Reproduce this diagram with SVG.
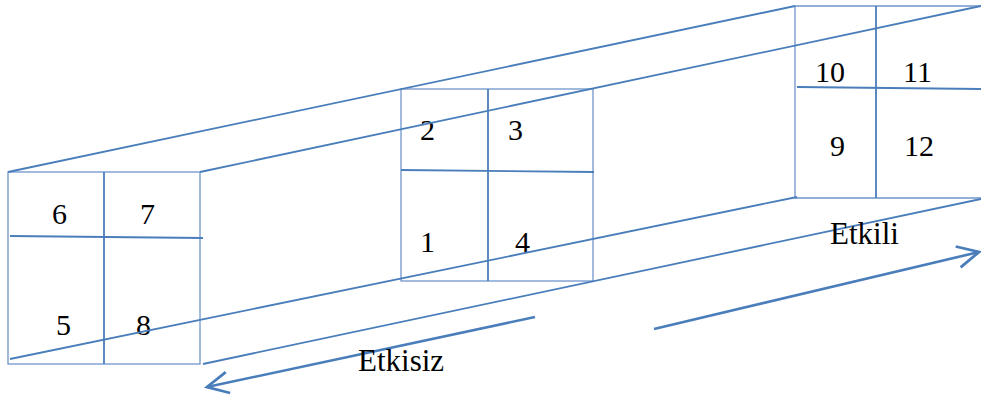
<svg xmlns="http://www.w3.org/2000/svg" width="981" height="396" viewBox="0 0 981 396">
<style>
.frame{fill:none;stroke:#6f95cc;stroke-width:1.3}
.div{fill:none;stroke:#4a7ebb;stroke-width:1.8}
.edge{fill:none;stroke:#4a7ebb;stroke-width:1.8}
.arrow{fill:none;stroke:#4a7ebb;stroke-width:2.6}
.num{font-size:30px}
.lbl{font-size:31px}
</style>
<defs>
<marker id="chev" markerUnits="userSpaceOnUse" markerWidth="30" markerHeight="30" viewBox="-24 -12 28 24" refX="0" refY="0" orient="auto">
<path d="M-20,-10 L0,0 L-20,10" fill="none" stroke="#4a7ebb" stroke-width="2.6"/>
</marker>
</defs>
<rect width="981" height="396" fill="#fff"/>
<g font-family="'Liberation Serif', 'Times New Roman', serif" fill="#000">
<g id="section-left">
<rect class="frame" x="8" y="172" width="192" height="192"/>
<line class="div" x1="104" y1="172" x2="104" y2="364"/>
<line class="div" x1="10" y1="236" x2="203" y2="238"/>
<text class="num" x="52" y="224">6</text>
<text class="num" x="140" y="224">7</text>
<text class="num" x="56" y="335">5</text>
<text class="num" x="136" y="335">8</text>
</g>
<g id="section-middle">
<rect class="frame" x="401" y="89" width="192" height="192"/>
<line class="div" x1="488" y1="89" x2="488" y2="281"/>
<line class="div" x1="401" y1="170" x2="594" y2="172"/>
<text class="num" x="420" y="140">2</text>
<text class="num" x="508" y="140">3</text>
<text class="num" x="420" y="252">1</text>
<text class="num" x="515" y="252">4</text>
</g>
<g id="section-right">
<path class="frame" d="M981,6 L795,6 L795,198 L981,198"/>
<line class="div" x1="876" y1="6" x2="876" y2="198"/>
<line class="div" x1="797" y1="87" x2="981" y2="89"/>
<text class="num" x="815" y="82">10</text>
<text class="num" x="903" y="82">11</text>
<text class="num" x="830" y="156">9</text>
<text class="num" x="904" y="156">12</text>
</g>
<g id="connectors">
<line class="edge" x1="8" y1="172" x2="795" y2="6"/>
<line class="edge" x1="200" y1="172" x2="981" y2="6"/>
<line class="edge" x1="10" y1="359" x2="797" y2="197"/>
<line class="edge" x1="203" y1="364" x2="981" y2="199"/>
<line class="arrow" x1="535" y1="317" x2="207" y2="387" marker-end="url(#chev)"/>
<line class="arrow" x1="654" y1="329" x2="979" y2="252" marker-end="url(#chev)"/>
</g>
<g id="labels">
<text class="lbl" x="358" y="371">Etkisiz</text>
<text class="lbl" x="830" y="244">Etkili</text>
</g>
</g>
</svg>
